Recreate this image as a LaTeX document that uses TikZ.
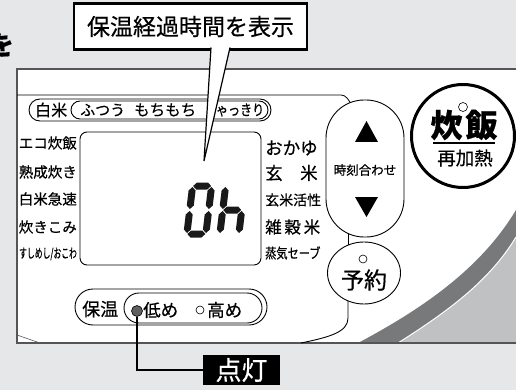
\documentclass[tikz,border=0pt]{standalone}
\usepackage{fontspec}
\setmainfont{Noto Sans CJK JP}[FakeBold=0.5]
\usepackage{tikz}
\usetikzlibrary{positioning, shapes.geometric}

\definecolor{bggray}{RGB}{230,231,233}
\definecolor{rimgray}{RGB}{85,85,87}
\definecolor{banddark}{RGB}{120,121,123}
\definecolor{bandlight}{RGB}{192,193,195}
\definecolor{ledgray}{RGB}{95,95,97}

\newcommand{\fsz}[1]{\fontsize{#1}{#1}\selectfont}
% segments of the display digits
\newcommand{\hseg}[3]{\fill (#1,#3) -- (#1+3.5,#3-3.5) -- (#2-3.5,#3-3.5) -- (#2,#3) -- (#2-3.5,#3+3.5) -- (#1+3.5,#3+3.5) -- cycle;}
\newcommand{\vseg}[3]{\fill (#1,#2) -- (#1+3.5,#2-3.5) -- (#1+3.5,#3+3.5) -- (#1,#3) -- (#1-3.5,#3+3.5) -- (#1-3.5,#2-3.5) -- cycle;}

\begin{document}
\begin{tikzpicture}[x=1pt,y=-1pt,
  lbl/.style={inner sep=0pt},
  pill/.style={draw, line width=0.9pt},
  rim/.style={draw=rimgray, line width=1.1pt},
  knob/.style={draw, fill=white, line width=0.9pt, inner sep=0pt},
  lamp dot/.style={circle, draw, fill=white, line width=0.6pt, inner sep=0pt, minimum size=8}]
 \useasboundingbox (0,0) rectangle (516,390);
 \fill[bggray] (0,0) rectangle (516,390);
 \node[lbl, anchor=east, font=\fsz{26}\bfseries] (wo) at (14,45) {を};
%
 % panel
 \fill[white] (17,69) rectangle (516,343);
 \fill[bandlight] (398,343) .. controls (450,310) and (490,280) .. (516,237) -- (516,343) -- cycle;
 \fill[banddark] (358,343) .. controls (420,310) and (480,270) .. (516,210) -- (516,237)
   .. controls (490,280) and (450,310) .. (398,343) -- cycle;
 \draw[white, line width=1pt] (398,343) .. controls (450,310) and (490,280) .. (516,237);
 \draw[rim] (516,69) -- (17,69) -- (17,343) -- (516,343);
 \draw[rimgray, line width=0.6pt] (17,335) -- (40,343);
 \draw[line width=0.8pt] (17,95) -- (341,95) .. controls (346,95) and (349,100) .. (352,106);
%
 % rice menu
 \draw[pill, rounded corners=11] (29,99) rectangle (271,121);
 \draw[pill, rounded corners=9] (71,101) rectangle (268,119);
 \node[lbl, anchor=west, font=\fsz{16}] (hakumai) at (35,110) {白米};
 \node[lbl, anchor=west, font=\fsz{15}] (futsuu) at (80,110) {ふつう};
 \node[lbl, anchor=west, font=\fsz{15.5}] (mochi) at (134,110) {もちもち};
 \node[lbl, anchor=west, font=\fsz{15}, xscale=0.8, transform shape] (shakki) at (204,110) {しゃっきり};
%
 \node[lbl, anchor=east, font=\fsz{14.5}] (eco) at (77,143) {エコ炊飯};
 \node[lbl, anchor=east, font=\fsz{14.5}] (jukusei) at (77,172) {熟成炊き};
 \node[lbl, anchor=east, font=\fsz{14.5}] (kyusoku) at (77,199) {白米急速};
 \node[lbl, anchor=east, font=\fsz{14.5}] (takikomi) at (77,227) {炊きこみ};
 \node[lbl, anchor=east, font=\fsz{13}, xscale=0.6, transform shape] (sushi) at (77,254) {すしめし/おこわ};
%
 \node[lbl, anchor=west, font=\fsz{17.5}] (okayu) at (265,148) {おかゆ};
 \node[lbl, anchor=west, font=\fsz{17.5}] (genmai) at (265,173) {玄　米};
 \node[lbl, anchor=west, font=\fsz{14}] (kassei) at (265,200) {玄米活性};
 \node[lbl, anchor=west, font=\fsz{16.5}] (zakkoku) at (265,227) {雑\,穀\,米};
 \node[lbl, anchor=west, font=\fsz{14}, xscale=0.8, transform shape] (joki) at (265,253) {蒸気セーブ};
%
 % display
 \draw[line width=0.9pt, rounded corners=7] (80,132) rectangle (261,265);
 \begin{scope}[shift={(183,237)}, xslant=0.12, fill=black!90]
  \hseg{4}{22}{-51} \vseg{22.5}{-28}{-50} \vseg{22.5}{-4}{-26}
  \hseg{4}{22}{-3} \vseg{3.5}{-4}{-26} \vseg{3.5}{-28}{-50}
 \end{scope}
 \begin{scope}[shift={(216,237)}, xslant=0.12, fill=black!90]
  \vseg{3.5}{-28}{-50} \vseg{3.5}{-4}{-26}
  \hseg{4}{22}{-27} \vseg{22.5}{-4}{-26}
 \end{scope}
%
 % buttons
 \draw[line width=0.9pt] (348,225) -- (348,250);
 \draw[line width=0.9pt] (348,290) -- (348,318) .. controls (348,332) and (330,337) .. (301,343);
 \node[knob, rounded corners=38, minimum width=78, minimum height=137] (timecap) at (365,168.5) {};
 \fill (355,142) -- (378,142) -- (366.5,121) -- cycle;
 \fill (355,197) -- (378,197) -- (366.5,217) -- cycle;
 \node[lbl, font=\fsz{12.5}] (jikoku) at (365,170) {時刻合わせ};
 \node[knob, ellipse, minimum width=73, minimum height=62] (yoyaku) at (364,273) {};
 \node[lbl, font=\fsz{23}] (yoyakutxt) at (364,280) {予約};
 \node[lamp dot] (yoyakulamp) at (363,259) {};
%
 \node[knob, circle, line width=3pt, minimum size=103] (suihan) at (463,136) {};
 \node[lbl, font=\fsz{32}\bfseries] (suihantxt) at (464,125) {炊\hspace{3pt}飯};
 \node[lamp dot, minimum size=9] (suihanlamp) at (463,107) {};
 \draw[line width=1.5pt] (433,143) -- (495,143);
 \node[lbl, font=\fsz{18.5}] (saikanetsu) at (465,158) {再加熱};
%
 % keep warm
 \draw[pill, rounded corners=18] (75,289) rectangle (267,325);
 \draw[pill, rounded corners=15] (124,293) rectangle (262,323);
 \node[lbl, anchor=west, font=\fsz{18}] (hoon) at (82,309) {保温};
 \node[lbl, anchor=west, font=\fsz{17.5}] (hikume) at (143,310) {低め};
 \node[lamp dot, minimum size=8] (takamedot) at (200,310) {};
 \node[lbl, anchor=west, font=\fsz{17.5}] (takame) at (207,310) {高め};
 \node[circle, draw, fill=ledgray, line width=0.6pt, inner sep=0pt, minimum size=11] (lowdot) at (137,311) {};
 \node[fill=black, text=white, minimum width=77, minimum height=30, inner sep=0pt, font=\fsz{26}] (lamp) at (241.5,370) {点灯};
 \draw[line width=2.2pt] (lowdot.south) |- (lamp.west);
%
 % callout
 \node[draw, line width=2.4pt, fill=white, minimum width=233, minimum height=46, inner sep=0pt, font=\fsz{23}] (callout) at (190.5,26.5) {保温経過時間を表示};
 \coordinate (tailL) at (211,47.5);
 \coordinate (tailR) at (230,47.5);
 \coordinate (tip) at (204,161);
 \fill[white] (tailL) -- (tip) -- (tailR) -- cycle;
 \draw[line width=1.2pt] (tailL) -- (tip) -- (tailR);
\end{tikzpicture}
\end{document}
